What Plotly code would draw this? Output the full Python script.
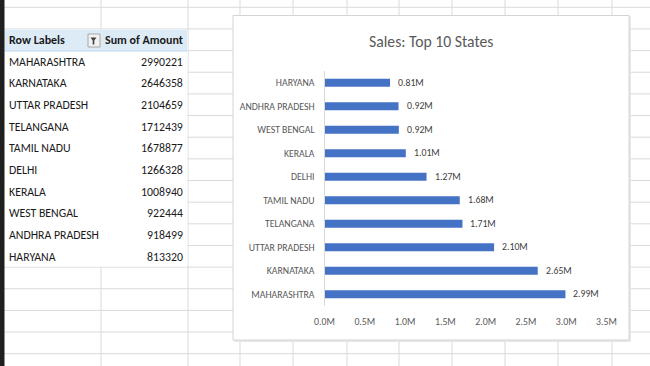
import plotly.graph_objects as go

# ---------------- data ----------------
states = ["MAHARASHTRA", "KARNATAKA", "UTTAR PRADESH", "TELANGANA", "TAMIL NADU",
          "DELHI", "KERALA", "WEST BENGAL", "ANDHRA PRADESH", "HARYANA"]
amounts = [2990221, 2646358, 2104659, 1712439, 1678877,
           1266328, 1008940, 922444, 918499, 813320]
x_tickvals = [0, 500000, 1000000, 1500000, 2000000, 2500000, 3000000, 3500000]
x_ticktext = ["0.0M", "0.5M", "1.0M", "1.5M", "2.0M", "2.5M", "3.0M", "3.5M"]
header_labels = ["Row Labels", "Sum of Amount"]
chart_title = "Sales: Top 10 States"

W, H = 650, 366
FONT = "Carlito, Lato, 'Open Sans', sans-serif"


def X(p):
    return p / W


def Y(p):
    return 1 - p / H


shapes = []
annotations = []

# spreadsheet gridlines (background decoration)
grid_cols = [101, 188, 240, 293, 347, 399, 452, 505, 558, 612]
row_top, row_h = 7.3, 21.65
for c in grid_cols:
    shapes.append(dict(type="line", xref="paper", yref="paper", x0=X(c), x1=X(c),
                       y0=0, y1=1, line=dict(color="#DADADA", width=1), layer="below"))
for i in range(17):
    yy = row_top + i * row_h
    shapes.append(dict(type="line", xref="paper", yref="paper", x0=X(4), x1=1,
                       y0=Y(yy), y1=Y(yy), line=dict(color="#DADADA", width=1), layer="below"))

# pivot table body (white, hides gridlines) and header band
shapes.append(dict(type="rect", xref="paper", yref="paper", x0=X(4.5), x1=X(187.5),
                   y0=Y(266.5), y1=Y(29.5), fillcolor="white", line=dict(width=0), layer="below"))
shapes.append(dict(type="rect", xref="paper", yref="paper", x0=X(4.5), x1=X(187.5),
                   y0=Y(51), y1=Y(29.5), fillcolor="#DDEBF7", line=dict(width=0), layer="below"))
shapes.append(dict(type="line", xref="paper", yref="paper", x0=X(4.5), x1=X(187.5),
                   y0=Y(51), y1=Y(51), line=dict(color="#BDD7EE", width=1), layer="below"))

# filter button
shapes.append(dict(type="rect", xref="paper", yref="paper", x0=X(88), x1=X(100),
                   y0=Y(47), y1=Y(34), fillcolor="#F2F2F2", line=dict(color="#A6A6A6", width=1),
                   layer="below"))
fp = [(90.5, 37.5), (96.5, 37.5), (94.3, 40.5), (94.3, 44.5), (92.7, 44.5), (92.7, 40.5)]
path = "M " + " L ".join(f"{X(a):.5f},{Y(b):.5f}" for a, b in fp) + " Z"
shapes.append(dict(type="path", xref="paper", yref="paper", path=path,
                   fillcolor="#404040", line=dict(width=0), layer="below"))

# chart box with soft shadow
shapes.append(dict(type="rect", xref="paper", yref="paper", x0=X(234), x1=X(631),
                   y0=Y(342), y1=Y(16.5), fillcolor="#E8E8E8", line=dict(width=0), layer="below"))
shapes.append(dict(type="rect", xref="paper", yref="paper", x0=X(233), x1=X(629),
                   y0=Y(340), y1=Y(15.5), fillcolor="white", line=dict(color="#D4D4D4", width=1),
                   layer="below"))

# left dark strip (window edge), drawn on top
shapes.append(dict(type="rect", xref="paper", yref="paper", x0=X(-2), x1=X(4.5), y0=-0.01, y1=1.01,
                   fillcolor="#1F1F1F", line=dict(width=0), layer="above"))

# pivot table text
TABLE_SIZE = 11.8
annotations.append(dict(xref="paper", yref="paper", x=X(7), y=Y(40.5), xanchor="left",
                        yanchor="middle", text="<b>" + header_labels[0] + "</b>", showarrow=False,
                        font=dict(family=FONT, size=12, color="#1A1A1A")))
annotations.append(dict(xref="paper", yref="paper", x=X(184.5), y=Y(40.5), xanchor="right",
                        yanchor="middle", text="<b>" + header_labels[1] + "</b>", showarrow=False,
                        font=dict(family=FONT, size=12, color="#1A1A1A")))
for i, (s, v) in enumerate(zip(states, amounts)):
    yc = 51 + i * row_h + row_h / 2
    annotations.append(dict(xref="paper", yref="paper", x=X(7), y=Y(yc), xanchor="left",
                            yanchor="middle", text=s, showarrow=False,
                            font=dict(family=FONT, size=TABLE_SIZE, color="#1A1A1A")))
    annotations.append(dict(xref="paper", yref="paper", x=X(185), y=Y(yc), xanchor="right",
                            yanchor="middle", text=str(v), showarrow=False,
                            font=dict(family=FONT, size=TABLE_SIZE, color="#1A1A1A")))

# chart title
annotations.append(dict(xref="paper", yref="paper", x=X(430.5), y=Y(41), xanchor="center",
                        yanchor="middle", text=chart_title, showarrow=False,
                        font=dict(family=FONT, size=15.7, color="#595959")))

# data labels
for s, v in zip(states, amounts):
    annotations.append(dict(xref="x", yref="y", x=v, y=s, xanchor="left", yanchor="middle",
                            xshift=6, text=f"{v / 1e6:.2f}M", showarrow=False,
                            font=dict(family=FONT, size=9.8, color="#404040")))

fig = go.Figure(go.Bar(x=amounts, y=states, orientation="h",
                       marker=dict(color="#4472C4", line=dict(width=0)),
                       hoverinfo="x+y"))

fig.update_layout(
    width=W, height=H, autosize=False,
    margin=dict(l=0, r=0, t=0, b=0, pad=0, autoexpand=False),
    paper_bgcolor="white", plot_bgcolor="rgba(0,0,0,0)",
    showlegend=False, bargap=0.66,
    shapes=shapes, annotations=annotations,
    xaxis=dict(domain=[X(324.5), X(606.5)], range=[0, 3500000], tickvals=x_tickvals,
               ticktext=x_ticktext, showgrid=False, zeroline=False, showline=False,
               ticks="", ticklabelstandoff=8, automargin=False,
               tickfont=dict(family=FONT, size=9.8, color="#595959")),
    yaxis=dict(domain=[Y(306), Y(71)], type="category", showgrid=False, zeroline=False,
               showline=True, linecolor="#D9D9D9", linewidth=1, ticks="",
               ticklabelstandoff=7, automargin=False,
               tickfont=dict(family=FONT, size=9.8, color="#595959")),
)

fig.write_html("out.html", config={"displayModeBar": False},
               post_script="document.body.style.margin='0';")
